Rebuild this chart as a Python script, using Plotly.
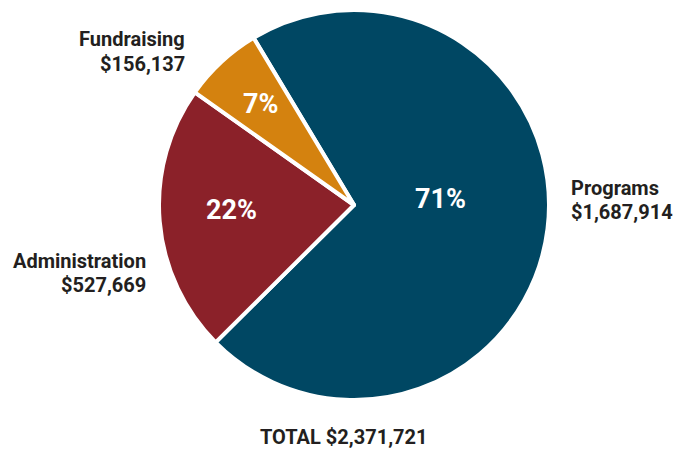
import plotly.graph_objects as go

categories = ["Programs", "Administration", "Fundraising"]
values = [1687914, 527669, 156137]
amount_labels = ["$1,687,914", "$527,669", "$156,137"]
colors = ["#004763", "#8b2129", "#d4820f"]
total_label = "TOTAL $2,371,721"

W, H = 676, 452
FONT = "Roboto, Liberation Sans, sans-serif"

cx, cy, r = 354, 205, 195

fig = go.Figure(go.Pie(
    labels=categories,
    values=values,
    sort=False,
    direction="clockwise",
    rotation=-31,
    marker=dict(colors=colors, line=dict(color="white", width=4)),
    textinfo="none",
    showlegend=False,
    hoverinfo="label+value+percent",
    domain=dict(x=[(cx - r) / W, (cx + r) / W], y=[1 - (cy + r) / H, 1 - (cy - r) / H]),
))

total = sum(values)

# pixel positions for in-slice percentages and outside labels
pct_pos = {"Programs": (440, 199), "Administration": (231, 210), "Fundraising": (260, 104)}
label_pos = {
    "Programs": (569, 188, 212, "left"),
    "Administration": (148, 261, 285, "right"),
    "Fundraising": (187, 39, 64, "right"),
}

annotations = []
for cat, v, amt in zip(categories, values, amount_labels):
    px, py = pct_pos[cat]
    annotations.append(dict(
        x=px / W, y=1 - py / H, xref="paper", yref="paper",
        text=f"{round(100 * v / total)}%", showarrow=False,
        xanchor="center", yanchor="middle",
        font=dict(family=FONT, size=27, color="white", weight="bold"),
    ))
    x, y1, y2, anchor = label_pos[cat]
    for txt, yy in ((cat, y1), (amt, y2)):
        annotations.append(dict(
            x=x / W, y=1 - yy / H, xref="paper", yref="paper",
            text=txt, showarrow=False, xanchor=anchor, yanchor="middle",
            font=dict(family=FONT, size=20, color="#231f20", weight="bold"),
        ))
annotations.append(dict(
    x=343 / W, y=1 - 437 / H, xref="paper", yref="paper",
    text=total_label, showarrow=False, xanchor="center", yanchor="middle",
    font=dict(family=FONT, size=20, color="#231f20", weight="bold"),
))

fig.update_layout(
    width=W, height=H,
    margin=dict(l=0, r=0, t=0, b=0),
    paper_bgcolor="white", plot_bgcolor="white",
    annotations=annotations,
)

fig.write_html("out.html")
